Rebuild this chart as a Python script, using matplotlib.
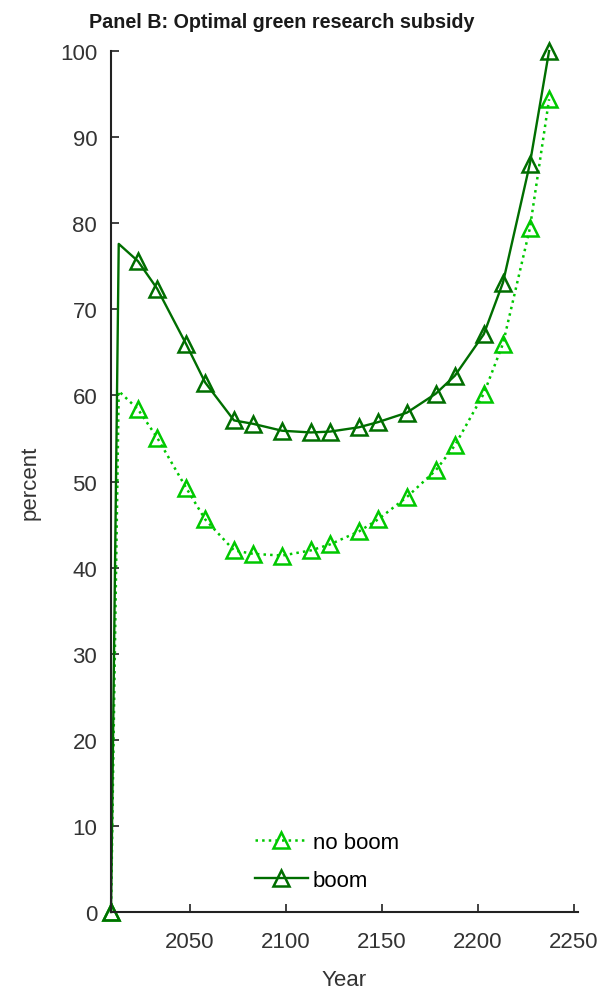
"""Panel B: optimal green research subsidy, with and without a boom."""

import matplotlib

matplotlib.use("Agg")
import matplotlib.pyplot as plt

plt.rcParams["font.family"] = ["Liberation Sans", "DejaVu Sans"]

# years of the plotted points (first two are the start and the early peak, no marker)
years = [2009, 2013, 2023, 2033, 2048, 2058, 2073, 2083, 2098, 2113, 2123,
         2138, 2148, 2163, 2178, 2188, 2203, 2213, 2227, 2237]
no_boom = [0, 60.5, 58.4, 55.1, 49.3, 45.6, 42.0, 41.6, 41.4, 42.0, 42.7,
           44.2, 45.6, 48.2, 51.3, 54.2, 60.2, 66.0, 79.4, 94.4]
boom = [0, 77.6, 75.6, 72.4, 66.0, 61.5, 57.1, 56.7, 55.9, 55.7, 55.8,
        56.3, 56.9, 58.0, 60.2, 62.3, 67.1, 73.1, 86.9, 100.0]
marked = [0] + list(range(2, len(years)))

LIGHT = "#00c800"
DARK = "#006e00"

fig = plt.figure(figsize=(5.97, 9.95), dpi=100)
ax = fig.add_axes([0.186, 0.0824, 0.782, 0.8653])

ax.plot(years, no_boom, ":", color=LIGHT, lw=1.8, marker="^", ms=12, mew=1.8,
        mfc="none", mec=LIGHT, markevery=marked, label="no boom")
ax.plot(years, boom, "-", color=DARK, lw=1.7, marker="^", ms=12, mew=1.8,
        mfc="none", mec=DARK, markevery=marked, label="boom")

ax.set_xlim(2009, 2252)
ax.set_ylim(0, 100)
ax.set_xticks([2050, 2100, 2150, 2200, 2250])
ax.set_yticks(range(0, 101, 10))
ax.tick_params(direction="in", length=6, width=1.3, labelsize=16,
               colors="#333333", pad=10)
ax.tick_params(axis="x", pad=14)
for s in ("top", "right"):
    ax.spines[s].set_visible(False)
for s in ("left", "bottom"):
    ax.spines[s].set_linewidth(1.5)
    ax.spines[s].set_color("#222222")
ax.set_xlabel("Year", fontsize=16, color="#333333", labelpad=12)
ax.set_ylabel("percent", fontsize=16, color="#333333", labelpad=14)
ax.set_title("Panel B: Optimal green research subsidy", fontsize=14.2,
             fontweight="bold", color="#1a1a1a", pad=17, x=0.365)
for ln in ax.lines:
    ln.set_clip_on(False)

ax.legend(loc="center left", bbox_to_anchor=(0.308, 0.059), frameon=False,
          fontsize=16, numpoints=1, handlelength=2.4, handletextpad=0.2,
          labelspacing=0.75, borderpad=0, borderaxespad=0)

fig.savefig("out.png", dpi=100)
